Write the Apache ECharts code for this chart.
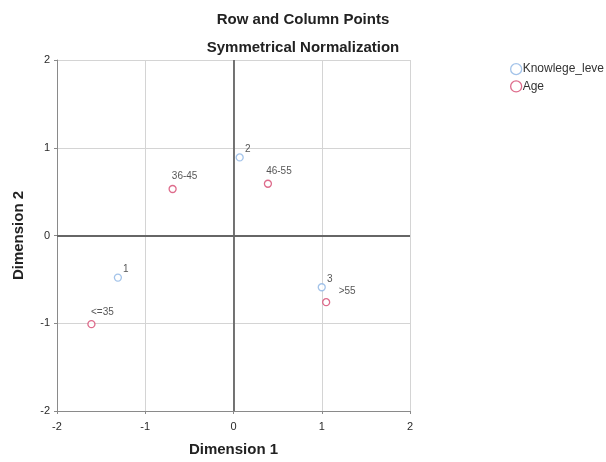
<!DOCTYPE html>
<html>
<head>
<meta charset="utf-8">
<script src="https://cdn.jsdelivr.net/npm/echarts@6/dist/echarts.min.js"></script>
<style>html,body{margin:0;padding:0;background:#fff}#c{width:606px;height:462px}</style>
</head>
<body>
<div id="c"></div>
<script>
var knowledgeNames = ['1', '2', '3'];
var knowledgeX = [-1.31, 0.07, 1.00];
var knowledgeY = [-0.48, 0.89, -0.59];
var ageNames = ['<=35', '36-45', '46-55', '>55'];
var ageX = [-1.61, -0.69, 0.39, 1.05];
var ageY = [-1.01, 0.53, 0.59, -0.76];
var axisTicks = [-2, -1, 0, 1, 2];

var labelOffsets = {
  '1': [8, -8], '2': [8, -8], '3': [8, -8],
  '<=35': [11, -12], '36-45': [12, -13], '46-55': [11, -12], '>55': [21, -11]
};
var fontFam = '"Liberation Sans", Arial, sans-serif';

function pts(names, xs, ys) {
  return names.map(function (n, i) {
    return {
      name: n, value: [xs[i], ys[i]],
      label: { offset: labelOffsets[n] }
    };
  });
}

var chart = echarts.init(document.getElementById('c'));
var axisCommon = {
  type: 'value', min: axisTicks[0], max: axisTicks[axisTicks.length - 1], interval: 1,
  axisLine: { show: true, onZero: false, lineStyle: { color: '#8a8a8a', width: 1 } },
  axisTick: { show: true, length: 3, lineStyle: { color: '#8a8a8a' } },
  axisLabel: { color: '#2a2a2a', fontSize: 11, fontFamily: fontFam },
  splitLine: { show: true, lineStyle: { color: '#d4d4d4', width: 1 } },
  nameLocation: 'middle',
  nameTextStyle: { fontWeight: 'bold', fontSize: 15, color: '#222', fontFamily: fontFam }
};
chart.setOption({
  animation: false,
  backgroundColor: '#fff',
  title: [
    { text: 'Row and Column Points', left: 'center', top: 7,
      textStyle: { fontSize: 15, fontWeight: 'bold', color: '#222', fontFamily: fontFam } },
    { text: 'Symmetrical Normalization', left: 'center', top: 35,
      textStyle: { fontSize: 15, fontWeight: 'bold', color: '#222', fontFamily: fontFam } }
  ],
  legend: {
    orient: 'vertical', left: 505, top: 58, itemGap: 5,
    itemWidth: 11, itemHeight: 11, icon: 'circle',
    textStyle: { fontSize: 12, color: '#333', fontFamily: fontFam, padding: [0, 0, 0, -4] },
    data: [
      { name: 'Knowlege_leve', itemStyle: { color: 'transparent', borderColor: '#8cb4e3', borderWidth: 1.3 } },
      { name: 'Age', itemStyle: { color: 'transparent', borderColor: '#d6476f', borderWidth: 1.3 } }
    ]
  },
  grid: { left: 57, right: 196, top: 60, bottom: 49, containLabel: false },
  xAxis: Object.assign({}, axisCommon, {
    name: 'Dimension 1', nameGap: 31,
    axisLabel: Object.assign({}, axisCommon.axisLabel, { margin: 10 })
  }),
  yAxis: Object.assign({}, axisCommon, {
    name: 'Dimension 2', nameGap: 31,
    axisLabel: Object.assign({}, axisCommon.axisLabel, { margin: 7 })
  }),
  series: [
    {
      name: 'Knowlege_leve', type: 'scatter', symbol: 'circle', symbolSize: 7,
      itemStyle: { color: '#fff', borderColor: '#8cb4e3', borderWidth: 1.3 },
      label: { show: true, position: 'inside', formatter: '{b}', fontSize: 10, color: '#2a2a2a', fontFamily: fontFam },
      data: pts(knowledgeNames, knowledgeX, knowledgeY),
      markLine: {
        silent: true, symbol: 'none', label: { show: false },
        lineStyle: { color: '#666', width: 1.8, type: 'solid' },
        data: [{ xAxis: 0 }, { yAxis: 0 }]
      },
      z: 3
    },
    {
      name: 'Age', type: 'scatter', symbol: 'circle', symbolSize: 7,
      itemStyle: { color: '#fff', borderColor: '#d6476f', borderWidth: 1.3 },
      label: { show: true, position: 'inside', formatter: '{b}', fontSize: 10, color: '#2a2a2a', fontFamily: fontFam },
      data: pts(ageNames, ageX, ageY),
      z: 3
    }
  ]
});
</script>
</body>
</html>
